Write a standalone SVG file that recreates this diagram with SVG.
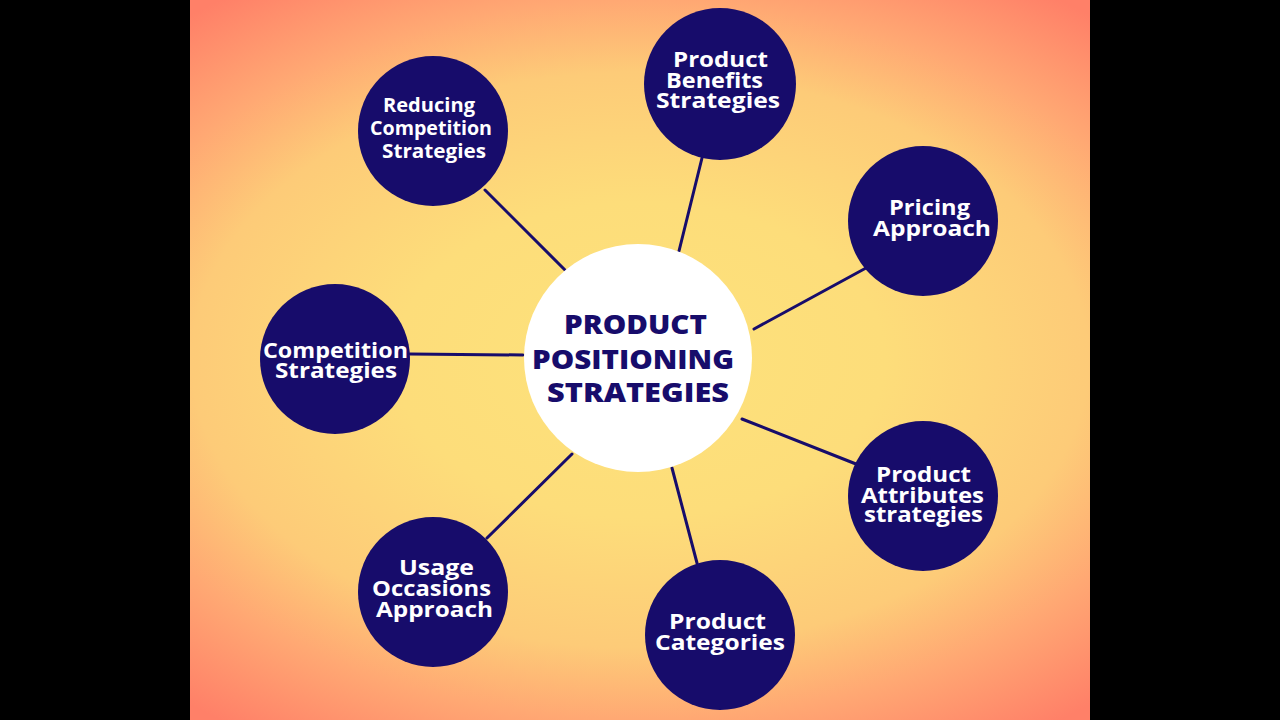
<svg xmlns="http://www.w3.org/2000/svg" width="1280" height="720" viewBox="0 0 1280 720">
<defs>
<radialGradient id="bg" cx="0" cy="0" r="1" gradientUnits="userSpaceOnUse" gradientTransform="translate(640 360) scale(700 450)">
<stop offset="0" stop-color="#fde27b"/>
<stop offset="0.35" stop-color="#fddd7a"/>
<stop offset="0.64" stop-color="#fdcb78"/>
<stop offset="0.8" stop-color="#ffa873"/>
<stop offset="1" stop-color="#ff8068"/>
</radialGradient>
<style>
.node{fill:#170c6b}
.lbl{font-family:"Open Sans","Noto Sans",sans-serif;font-weight:700;fill:#ffffff;font-size:21px;text-anchor:middle}
.sm{font-size:19px}
.ctr{font-family:"Open Sans","Noto Sans",sans-serif;font-weight:800;fill:#170c6b;font-size:26px;text-anchor:middle}
.conn line{stroke:#170c6b;stroke-width:3;stroke-linecap:round}
</style>
</defs>
<rect x="0" y="0" width="1280" height="720" fill="#000"/>
<rect x="190" y="0" width="900" height="720" fill="url(#bg)"/>
<g class="conn" id="connectors">
<line x1="485" y1="190" x2="565" y2="270"/>
<line x1="702" y1="158" x2="679" y2="251"/>
<line x1="866" y1="268" x2="754" y2="329"/>
<line x1="410" y1="354" x2="523" y2="355"/>
<line x1="742" y1="419" x2="856" y2="464"/>
<line x1="487" y1="538" x2="572" y2="454"/>
<line x1="672" y1="468" x2="697" y2="563"/>
</g>
<g id="center">
<circle cx="638" cy="358" r="114" fill="#ffffff"/>
<text class="ctr" x="635.5" y="334" textLength="143" lengthAdjust="spacingAndGlyphs">PRODUCT</text>
<text class="ctr" x="633" y="369" textLength="202" lengthAdjust="spacingAndGlyphs">POSITIONING</text>
<text class="ctr" x="638" y="402" textLength="182" lengthAdjust="spacingAndGlyphs">STRATEGIES</text>
</g>
<g id="reducing">
<circle class="node" cx="433" cy="131" r="75"/>
<text class="lbl sm" x="429" y="112" textLength="92" lengthAdjust="spacingAndGlyphs">Reducing</text>
<text class="lbl sm" x="431" y="135" textLength="122" lengthAdjust="spacingAndGlyphs">Competition</text>
<text class="lbl sm" x="434" y="158" textLength="104" lengthAdjust="spacingAndGlyphs">Strategies</text>
</g>
<g id="benefits">
<circle class="node" cx="720" cy="84" r="76"/>
<text class="lbl" x="720.5" y="67" textLength="95" lengthAdjust="spacingAndGlyphs">Product</text>
<text class="lbl" x="714.5" y="88" textLength="97" lengthAdjust="spacingAndGlyphs">Benefits</text>
<text class="lbl" x="718" y="108" textLength="124" lengthAdjust="spacingAndGlyphs">Strategies</text>
</g>
<g id="pricing">
<circle class="node" cx="923" cy="221" r="75"/>
<text class="lbl" x="929.5" y="215" textLength="81" lengthAdjust="spacingAndGlyphs">Pricing</text>
<text class="lbl" x="932" y="236" textLength="118" lengthAdjust="spacingAndGlyphs">Approach</text>
</g>
<g id="competition">
<circle class="node" cx="335" cy="359" r="75"/>
<text class="lbl" x="335.5" y="358" textLength="145" lengthAdjust="spacingAndGlyphs">Competition</text>
<text class="lbl" x="336" y="378" textLength="122" lengthAdjust="spacingAndGlyphs">Strategies</text>
</g>
<g id="attributes">
<circle class="node" cx="923" cy="496" r="75"/>
<text class="lbl" x="923.5" y="482" textLength="95" lengthAdjust="spacingAndGlyphs">Product</text>
<text class="lbl" x="922.5" y="503" textLength="123" lengthAdjust="spacingAndGlyphs">Attributes</text>
<text class="lbl" x="923.5" y="522" textLength="119" lengthAdjust="spacingAndGlyphs">strategies</text>
</g>
<g id="usage">
<circle class="node" cx="433" cy="592" r="75"/>
<text class="lbl" x="436.5" y="575" textLength="75" lengthAdjust="spacingAndGlyphs">Usage</text>
<text class="lbl" x="431.5" y="596" textLength="119" lengthAdjust="spacingAndGlyphs">Occasions</text>
<text class="lbl" x="434.5" y="617" textLength="117" lengthAdjust="spacingAndGlyphs">Approach</text>
</g>
<g id="categories">
<circle class="node" cx="720" cy="635" r="75"/>
<text class="lbl" x="717.5" y="629" textLength="97" lengthAdjust="spacingAndGlyphs">Product</text>
<text class="lbl" x="720" y="650" textLength="130" lengthAdjust="spacingAndGlyphs">Categories</text>
</g>
</svg>
